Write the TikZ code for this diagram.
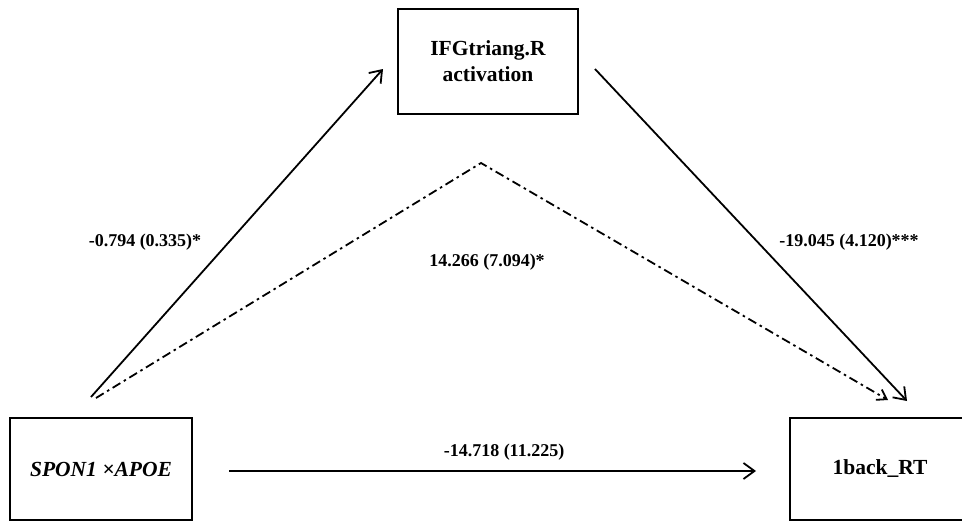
\documentclass[tikz,border=0pt]{standalone}
\usepackage{fontspec}
\setmainfont{Liberation Serif}
\usetikzlibrary{arrows.meta}
\begin{document}
\begin{tikzpicture}[x=1pt,y=-1pt,
  box/.style={draw,line width=2pt,minimum width=182pt,minimum height=102pt,inner sep=0pt,
    font=\fontsize{21.5}{26}\selectfont\bfseries,align=center},
  lbl/.style={font=\fontsize{18}{21}\selectfont\bfseries,inner sep=0pt},
  arr/.style={line width=1.8pt,-{Straight Barb[length=11pt,width=16pt]}},
  dasharr/.style={line width=1.8pt,dash pattern=on 9pt off 4pt on 2.5pt off 4pt,
    -{Straight Barb[length=9pt,width=12pt]}}]
\useasboundingbox (0,0) rectangle (962,522);
\fill[white] (0,0) rectangle (962,522);
\node[box,minimum width=180pt,minimum height=105pt] (M) at (488,61.5) {IFGtriang.R\\activation};
\node[box] (L) at (101,469) {\itshape SPON1 ×APOE};
\node[box,minimum width=180pt] (R) at (880,469) {1back\_RT};
\coordinate (s1) at (91,397);
\coordinate (e1) at (383,69);
\coordinate (s2) at (595,69);
\coordinate (e2) at (907,401);
\coordinate (s3) at (96,398);
\coordinate (pk) at (481,163);
\coordinate (e3) at (888,400);
\draw[arr] (s1) -- (e1);
\draw[arr] (s2) -- (e2);
\draw[dasharr] (s3) -- (pk) -- (e3);
\draw[arr,shorten <=36pt,shorten >=33pt] ([yshift=-2pt]L.east) -- ([yshift=-2pt]R.west);
\node[lbl] (l1) at (145,242) {-0.794 (0.335)*};
\node[lbl] (l2) at (487,262) {14.266 (7.094)*};
\node[lbl] (l3) at (849,242) {-19.045 (4.120)***};
\node[lbl] (l4) at (504,452) {-14.718 (11.225)};
\end{tikzpicture}
\end{document}
